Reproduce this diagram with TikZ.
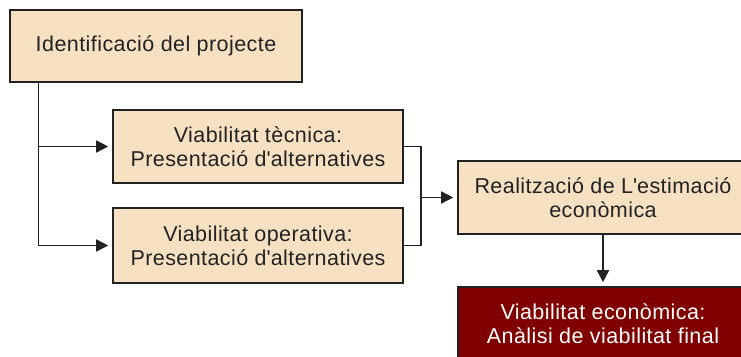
\documentclass[tikz,border=0pt]{standalone}
\usepackage{fontspec}
\setmainfont{Liberation Sans}[LetterSpace=2]
\usetikzlibrary{arrows.meta}
\definecolor{boxfill}{HTML}{F5E1C2}
\definecolor{finalfill}{HTML}{800000}
\definecolor{ink}{HTML}{222222}
\newcommand{\apos}{\textquotesingle}
\begin{document}
\begin{tikzpicture}[x=1bp,y=-1bp,
  stepbox/.style={draw=ink, line width=1.6bp, fill=boxfill, text=ink,
    minimum width=290bp, minimum height=73bp, inner sep=0pt, align=center,
    font=\fontsize{21.5bp}{24bp}\selectfont},
  finalbox/.style={stepbox, fill=finalfill, text=white},
  link/.style={draw=ink, line width=1.6bp},
  arrowlink/.style={link, -{Triangle[length=12bp,width=12bp]}, shorten >=4bp}]
  \useasboundingbox (0,0) rectangle (741,356);
  \clip (0,0) rectangle (741,356);

  \node[stepbox, minimum width=292bp, minimum height=72bp] (ident) at (156,46) {Identificació del projecte};
  \node[stepbox] (tecnica) at (258,146.5) {Viabilitat tècnica:\\Presentació d\apos alternatives};
  \node[stepbox, minimum height=75bp] (operativa) at (258,245.5) {Viabilitat operativa:\\Presentació d\apos alternatives};
  \node[stepbox] (estimacio) at (603,197.5) {Realització de L\apos estimació\\econòmica};
  \node[finalbox] (economica) at (603,323.5) {Viabilitat econòmica:\\Anàlisi de viabilitat final};

  % branches from the project identification
  \draw[arrowlink] (ident.south west) ++(29.5,0) |- (tecnica.west);
  \draw[arrowlink] (ident.south west) ++(29.5,0) |- (operativa.west);

  % the two feasibility studies join into the estimate
  \draw[link] (tecnica.east) -- ++(17,0) |- (operativa.east);
  \draw[arrowlink] (tecnica.east) ++(17,0) |- (estimacio.west);

  \draw[arrowlink] (estimacio.south) -- (economica.north);
\end{tikzpicture}
\end{document}
